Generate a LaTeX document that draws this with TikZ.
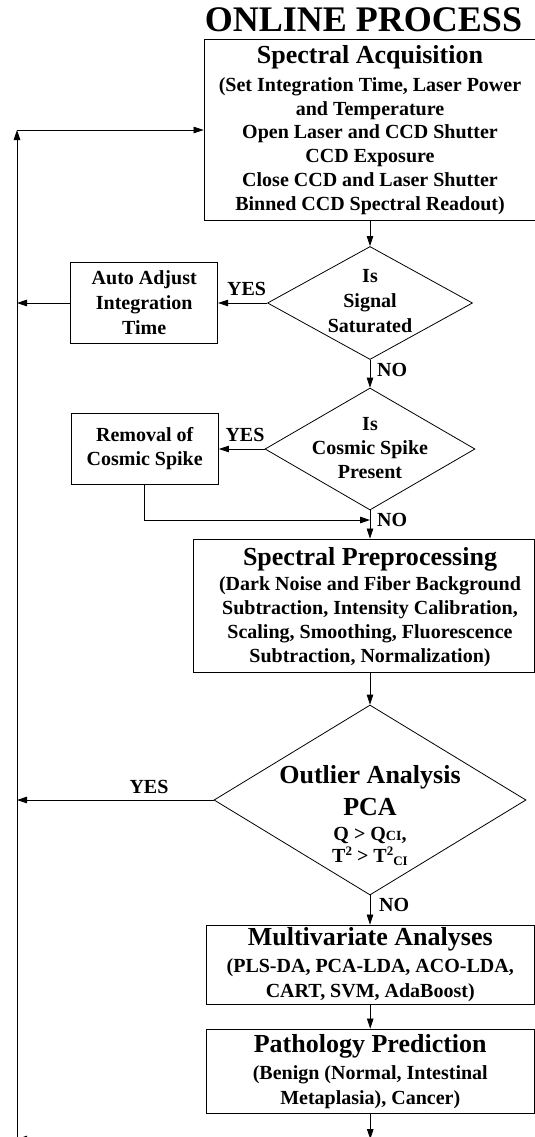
\documentclass[tikz,border=0pt]{standalone}
\usepackage{fontspec}
\setmainfont{Liberation Serif}
\usetikzlibrary{shapes.geometric,arrows.meta}
\newcommand\fsB[2]{\fontsize{#1}{#2}\selectfont\bfseries\lineskiplimit=-50pt\relax}
\begin{document}
\begin{tikzpicture}[x=1pt,y=-1pt,
  box/.style={draw, line width=0.9pt, inner sep=0pt, align=center},
  dia/.style={draw, diamond, inner sep=0pt, line width=0.8pt},
  txt/.style={inner sep=0pt, align=center},
  lbl/.style={inner sep=0pt, font=\fsB{20}{20}},
  arr/.style={line width=0.8pt, -{Triangle[length=10pt,width=6.5pt]}}]
\useasboundingbox (0,0) rectangle (535,1137);
\fill[white] (0,0) rectangle (535,1137);
\clip (0,0) rectangle (535,1137);

\node[inner sep=0pt, anchor=base, font=\fsB{36}{36}] (title) at (363.5,31.7) {ONLINE PROCESS};

\node[box, minimum width=332, minimum height=181.4, font=\fsB{20}{23.8}] (acq) at (370,130)
  {{\fsB{26}{26}Spectral Acquisition}\\[4.2pt]
   (Set Integration Time, Laser Power\\ and Temperature\\ Open Laser and CCD Shutter\\
   CCD Exposure\\ Close CCD and Laser Shutter\\ Binned CCD Spectral Readout)};

\node[dia, minimum width=205, minimum height=113] (d1) at (370,303) {};
\node[txt, font=\fsB{20}{25}] (d1t) at (370,301.5) {Is\\ Signal\\ Saturated};

\node[box, minimum width=147, minimum height=81.3, font=\fsB{20}{25}] (auto) at (144.2,303)
  {Auto Adjust\\ Integration\\ Time};

\node[dia, minimum width=210, minimum height=122] (d2) at (370,449) {};
\node[txt, font=\fsB{20}{24.2}] (d2t) at (370,448.3) {Is\\ Cosmic Spike\\ Present};

\node[box, minimum width=147.4, minimum height=70.7, font=\fsB{20}{24}] (rem) at (144.7,449)
  {Removal of\\ Cosmic Spike};

\node[box, minimum width=340.5, minimum height=133] (prep) at (363.75,605.5) {};
\node[txt, font=\fsB{20}{24.2}] (prept) at (370,607)
  {{\fsB{26}{26}Spectral Preprocessing}\\[0.8pt]
   (Dark Noise and Fiber Background\\ Subtraction, Intensity Calibration,\\
   Scaling, Smoothing, Fluorescence\\ Subtraction, Normalization)};

\node[dia, minimum width=312, minimum height=190] (d3) at (370,800) {};
\node[txt, font=\fsB{20}{20}] (d3t) at (370,815.2)
  {{\fsB{26}{26}Outlier Analysis}\\[12pt]{\fsB{26}{26}PCA}\\[5.5pt]
   Q > Q{\fontsize{14}{14}\selectfont CI},\\[1.5pt]
   T{\fontsize{13}{13}\selectfont\raisebox{6.5pt}{2}} > T{\fontsize{13}{13}\selectfont\raisebox{6.5pt}{2}\raisebox{-3pt}{CI}}};

\node[box, minimum width=327.5, minimum height=79, font=\fsB{20}{25}] (mv) at (370.25,964.5)
  {{\fsB{26}{26}Multivariate Analyses}\\[1.3pt]
   (PLS-DA, PCA-LDA, ACO-LDA,\\ CART, SVM, AdaBoost)};

\node[box, minimum width=327.5, minimum height=84.5, font=\fsB{20}{25}] (path) at (370.25,1071.25)
  {{\fsB{26}{26}Pathology Prediction}\\[1.7pt]
   (Benign (Normal, Intestinal\\ Metaplasia), Cancer)};

\coordinate (fbTop) at (17,130);
\coordinate (fbBot) at (17,1150);
\coordinate (fbA) at (17,303);
\coordinate (fbC) at (17,800);
\coordinate (botC) at (370.25,1139);
\coordinate (botL) at (17,1139);
\coordinate (join) at (370,520);

\draw[arr] (acq.south) -- (d1.north);
\draw[arr] (d1.south) -- (d2.north);
\draw[arr] (d1.west) -- (auto.east);
\draw[arr] (auto.west) -- (fbA);
\draw[arr] (d2.west) -- (rem.east);
\draw[arr] (rem.south) |- (join);
\draw[arr] (d2.south) -- (d2.south |- prep.north);
\draw[arr] (d2.south |- prep.south) -- (d3.north);
\draw[arr] (d3.west) -- (fbC);
\draw[arr] (d3.south) -- (d3.south |- mv.north);
\draw[arr] (mv.south) -- (path.north);
\draw[arr] (path.south) -- (botC);
\draw[arr] (botC) -- (botL);
\draw[arr] (fbBot) -- (fbTop);
\draw[arr] (fbTop) -- (acq.west);

\node[lbl, anchor=base west] (yes1) at (227,295) {YES};
\node[lbl, anchor=base west] (no1) at (377,376.7) {NO};
\node[lbl, anchor=base west] (yes2) at (225.3,441.7) {YES};
\node[lbl, anchor=base west] (no2) at (377,526.7) {NO};
\node[lbl, anchor=base] (yes3) at (149,793.3) {YES};
\node[lbl, anchor=base west] (no3) at (379,911.7) {NO};
\end{tikzpicture}
\end{document}
